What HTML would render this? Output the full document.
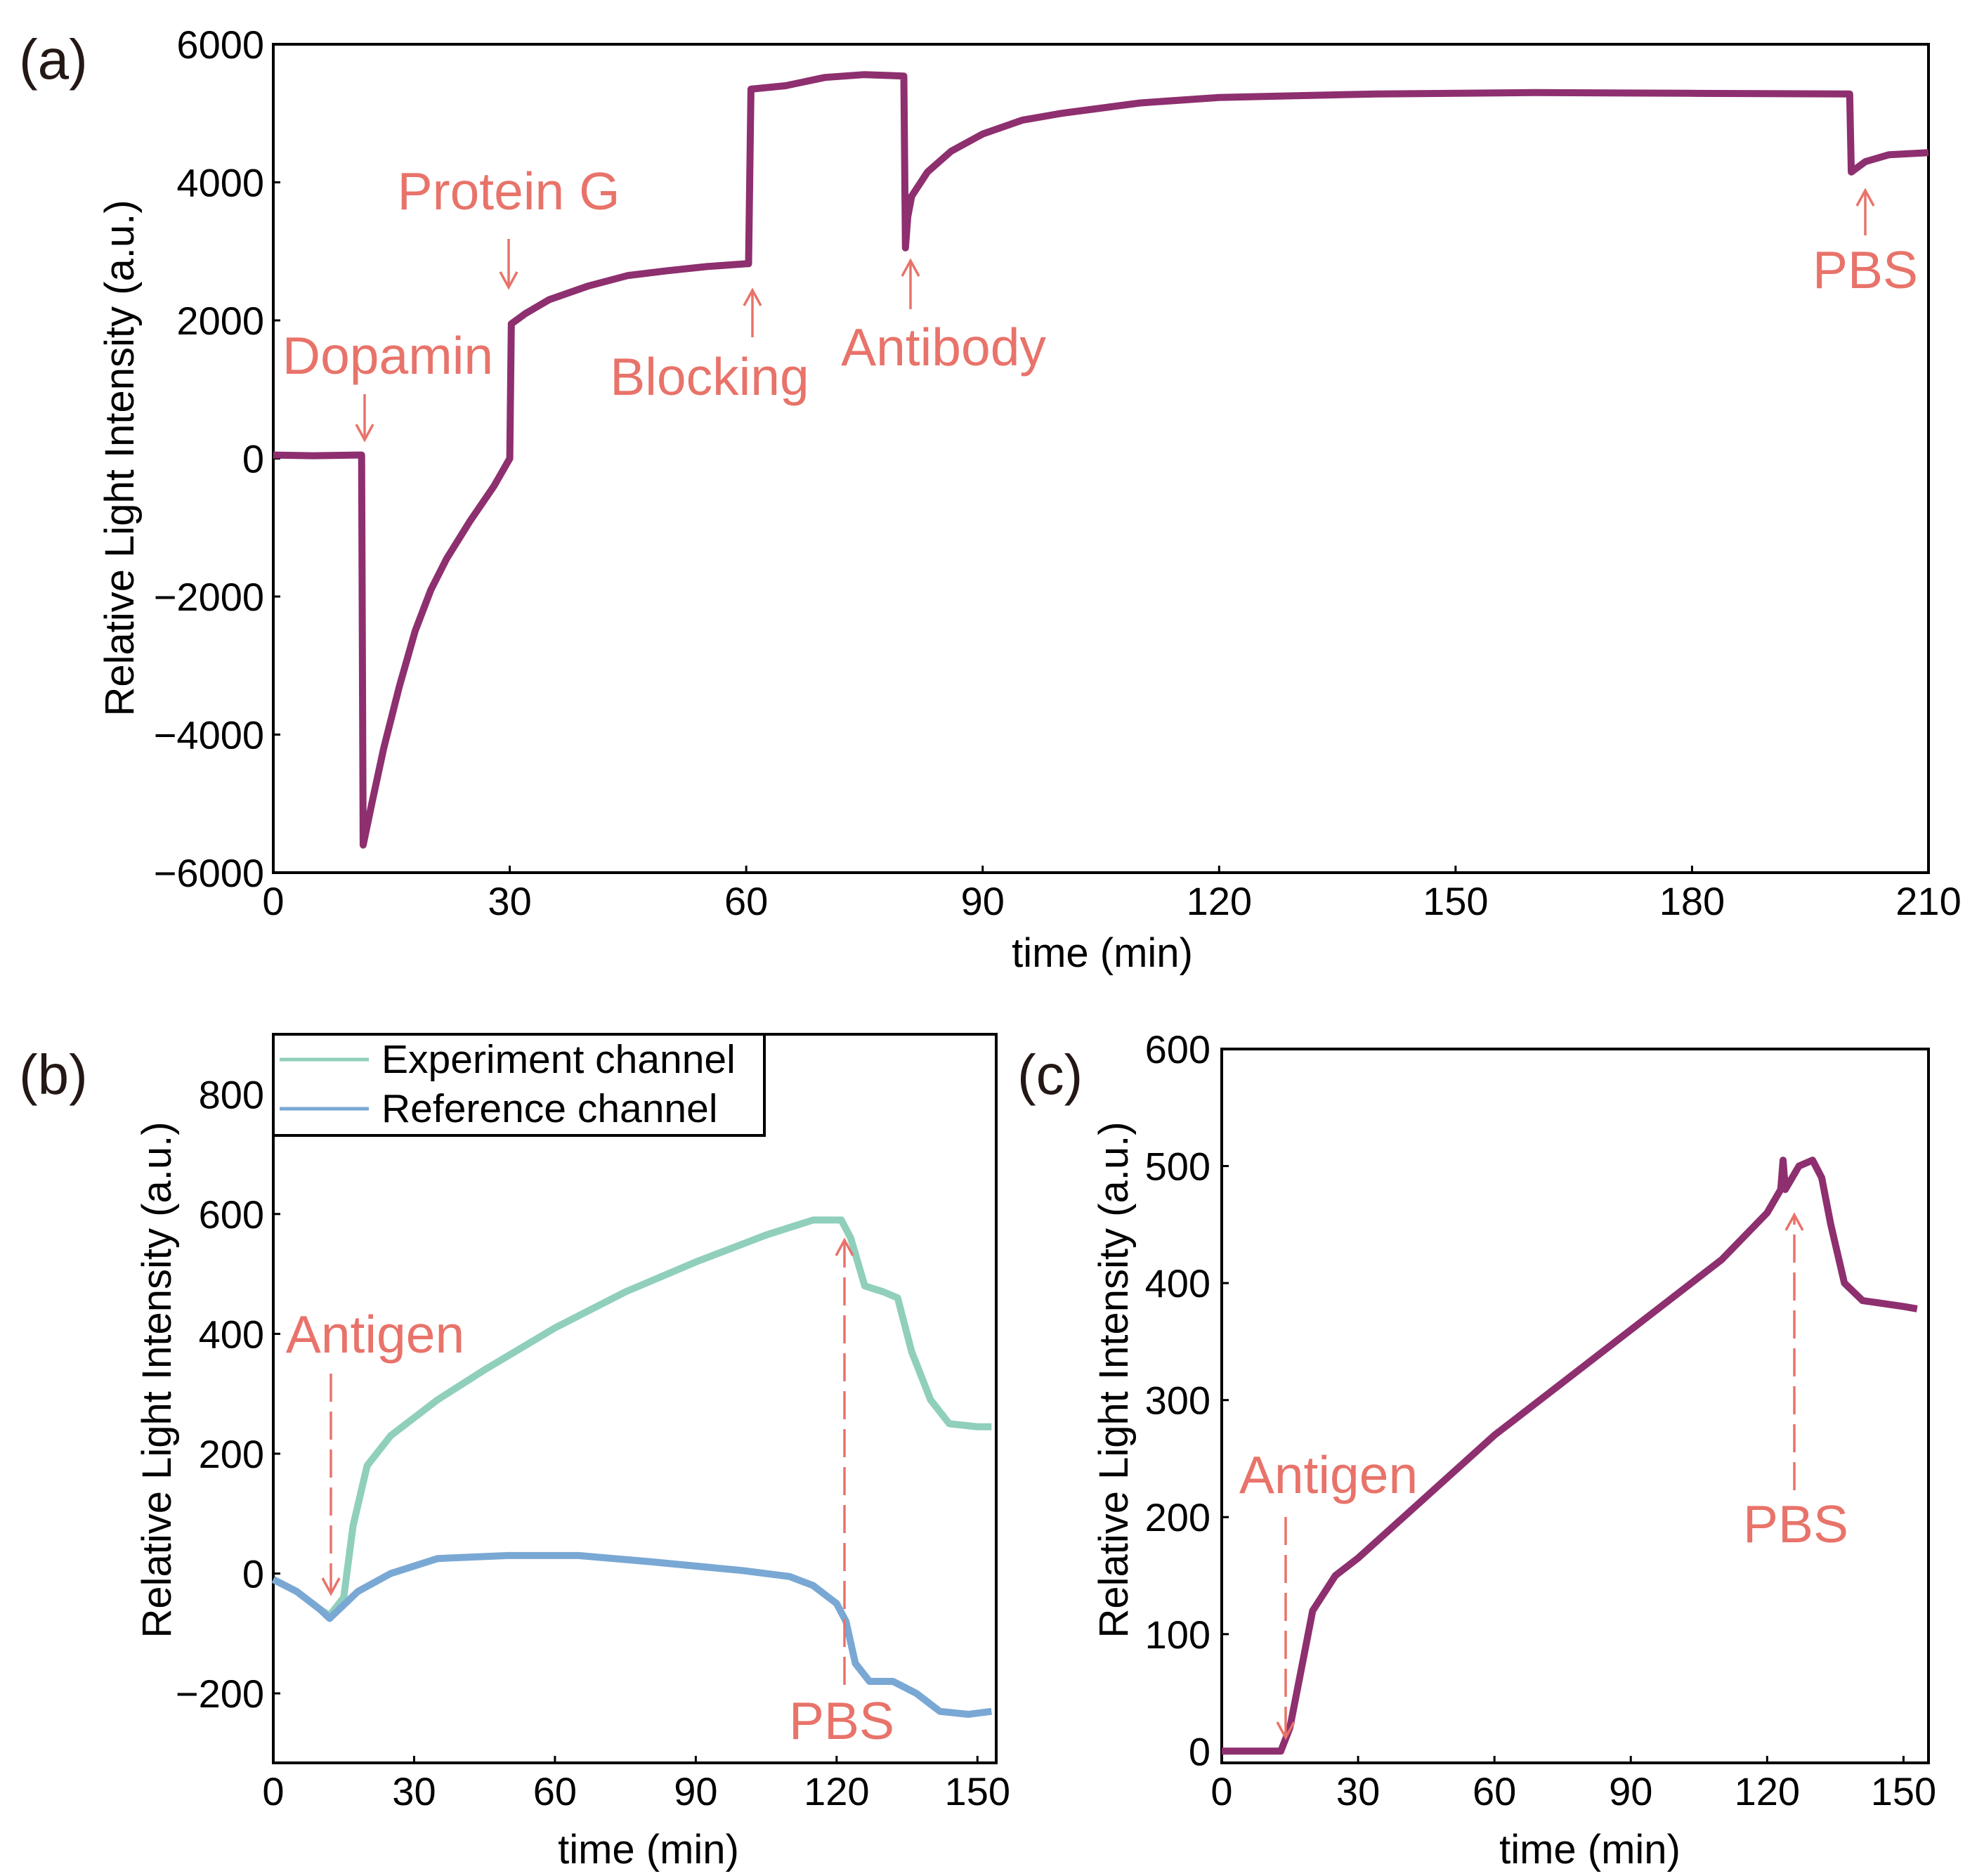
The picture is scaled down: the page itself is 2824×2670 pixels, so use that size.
<!DOCTYPE html>
<html><head><meta charset="utf-8">
<style>
html,body{margin:0;padding:0;background:#fff;}
svg{display:block;font-family:"Liberation Sans",Arial,sans-serif;}
</style></head>
<body>
<svg id="fig" width="2824" height="2670" viewBox="0 0 2824 2670" xmlns="http://www.w3.org/2000/svg">
  <g id="pa"></g>
  <g id="pb"></g>
  <g id="pc"></g>
</svg>
<script>
// Panel (a) data
const aTime = [0,5,11,11.2,11.4,12.5,14,16,18,20,22,25,28,30,30.2,32,35,40,45,50,55,60,60.3,60.6,65,70,75,80,80.2,80.5,81,83,86,90,95,100,110,120,140,160,180,200,200.2,202,205,210];
const aSignal = [50,40,50,50,-5600,-5000,-4200,-3300,-2500,-1900,-1450,-900,-400,0,1950,2100,2300,2500,2650,2720,2780,2820,2820,5350,5400,5520,5560,5540,3050,3500,3800,4150,4450,4700,4900,5000,5150,5230,5280,5300,5290,5280,4150,4300,4400,4430];
const aXTicks = [0,30,60,90,120,150,180,210];
const aYTicks = [-6000,-4000,-2000,0,2000,4000,6000];
// Panel (b) data
const bTime = [0,5,10,12,13,15,17,20,25,35,45,60,75,90,105,115,121,123,126,130,133,136,140,144,150,153];
const bExperiment = [-10,-30,-60,-70,-60,-40,80,180,230,290,340,410,470,520,565,590,590,560,480,470,460,370,290,250,245,245];
const bRefTime = [0,5,10,12,14,18,25,35,50,65,80,100,110,115,120,122,124,127,132,137,142,148,153];
const bReference = [-10,-30,-60,-75,-60,-30,0,25,30,30,20,5,-5,-20,-50,-80,-150,-180,-180,-200,-230,-235,-230];
const bXTicks = [0,30,60,90,120,150];
const bYTicks = [-200,0,200,400,600,800];
// Panel (c) data
const cTime = [0,13,15,18,20,25,30,40,60,90,110,120,123,123.5,124,127,130,132,134,137,141,150,153];
const cSignal = [0,0,20,80,120,150,165,200,270,360,420,460,480,505,480,500,505,490,450,400,385,380,378];
const cXTicks = [0,30,60,90,120,150];
const cYTicks = [0,100,200,300,400,500,600];

const NS = "http://www.w3.org/2000/svg";
const ANN = "#e8736a";
function mk(parent, tag, attrs, text){
  const e = document.createElementNS(NS, tag);
  for (const k in attrs) e.setAttribute(k, attrs[k]);
  if (text !== undefined) e.textContent = text;
  parent.appendChild(e);
  return e;
}
function axes(g, box, xd, yd, xt, yt, ylabelX, yticksX){
  const sx = v => box.l + (v - xd[0]) / (xd[1] - xd[0]) * (box.r - box.l);
  const sy = v => box.b - (v - yd[0]) / (yd[1] - yd[0]) * (box.b - box.t);
  const f = mk(g, 'rect', {x:box.l, y:box.t, width:box.r-box.l, height:box.b-box.t, fill:'none', stroke:'#000', 'stroke-width':4});
  
  
  xt.forEach(v => {
    mk(g, 'line', {x1:sx(v), x2:sx(v), y1:box.b, y2:box.b-10, stroke:'#000', 'stroke-width':3});
    const t = mk(g, 'text', {x:sx(v), y:box.b+60, 'font-size':56, 'text-anchor':'middle'}, String(v));
    
    
  });
  yt.forEach(v => {
    mk(g, 'line', {x1:box.l, x2:box.l+10, y1:sy(v), y2:sy(v), stroke:'#000', 'stroke-width':3});
    const t = mk(g, 'text', {x:yticksX, y:sy(v)+20, 'font-size':56, 'text-anchor':'end'}, v < 0 ? '\u2212' + Math.abs(v) : String(v));
    
    
  });
  return {sx, sy};
}
function series(g, s, xs, ys, color, w, name){
  const d = xs.map((x,i) => (i ? 'L' : 'M') + s.sx(x).toFixed(1) + ' ' + s.sy(ys[i]).toFixed(1)).join(' ');
  const p = mk(g, 'path', {d, fill:'none', stroke:color, 'stroke-width':w, 'stroke-linejoin':'round'});
  
  
}
function label(g, x, y, txt, size, color, name, anchor, rot){
  const a = {x, y, 'font-size':size, fill:color, 'text-anchor':anchor||'middle'};
  if (rot) a.transform = `rotate(-90 ${x} ${y})`;
  const t = mk(g, 'text', a, txt);
  
  
}
function arrow(g, x, y1, y2, dashed, name){
  const a = {x1:x, x2:x, y1, y2, stroke:ANN, 'stroke-width':3.5};
  if (dashed) a['stroke-dasharray'] = '40 14';
  const l = mk(g, 'line', a);
  
  
  const dir = y2 > y1 ? -1 : 1;
  mk(g, 'path', {d:`M${x-12} ${y2+dir*22} L${x} ${y2} L${x+12} ${y2+dir*22}`, fill:'none', stroke:ANN, 'stroke-width':3.5});
}

// Panel a
const ga = document.getElementById('pa');
const sa = axes(ga, {l:389, r:2757-12, t:63, b:1242}, [0,210], [-6000,6000], aXTicks, aYTicks, 0, 376);
series(ga, sa, aTime, aSignal, '#8e2f6f', 10, 'signal-line');
label(ga, 27, 112, '(a)', 80, '#231815', 'panel-label-a', 'start');
label(ga, 1569, 1376, 'time (min)', 58, '#000', 'x-axis-title');
label(ga, 190, 652, 'Relative Light Intensity (a.u.)', 58, '#000', 'y-axis-title', 'middle', true);
label(ga, 552, 532, 'Dopamin', 75, ANN, 'annotation-dopamin');
arrow(ga, 519, 561, 626, false, 'arrow-dopamin');
label(ga, 724, 298, 'Protein G', 75, ANN, 'annotation-protein-g');
arrow(ga, 724, 340, 409, false, 'arrow-protein-g');
label(ga, 1010, 562, 'Blocking', 75, ANN, 'annotation-blocking');
arrow(ga, 1071, 480, 413, false, 'arrow-blocking');
label(ga, 1343, 520, 'Antibody', 75, ANN, 'annotation-antibody');
arrow(ga, 1296, 440, 371, false, 'arrow-antibody');
label(ga, 2655, 410, 'PBS', 75, ANN, 'annotation-pbs');
arrow(ga, 2655, 335, 271, false, 'arrow-pbs');

// Panel b
const gb = document.getElementById('pb');
const sb = axes(gb, {l:389, r:1430-12, t:1472, b:2509}, [0,154], [-316,900], bXTicks, bYTicks, 0, 376);
series(gb, sb, bTime, bExperiment, '#8fcfbb', 10, 'experiment-channel-line');
series(gb, sb, bRefTime, bReference, '#7aa8d4', 10, 'reference-channel-line');
label(gb, 27, 1557, '(b)', 80, '#231815', 'panel-label-b', 'start');
label(gb, 923, 2652, 'time (min)', 58, '#000', 'x-axis-title');
label(gb, 243, 1964, 'Relative Light Intensity (a.u.)', 58, '#000', 'y-axis-title', 'middle', true);
label(gb, 534, 1925, 'Antigen', 75, ANN, 'annotation-antigen');
arrow(gb, 471, 1955, 2268, true, 'arrow-antigen');
label(gb, 1198, 2475, 'PBS', 75, ANN, 'annotation-pbs');
arrow(gb, 1202, 2398, 1765, true, 'arrow-pbs');
const lg = mk(gb, 'g', {});


mk(lg, 'rect', {x:389, y:1472, width:699, height:144, fill:'#fff', stroke:'#000', 'stroke-width':4});
mk(lg, 'line', {x1:398, x2:525, y1:1508, y2:1508, stroke:'#8fcfbb', 'stroke-width':5});
label(lg, 543, 1527, 'Experiment channel', 57, '#000', 'legend-entry-experiment', 'start');
mk(lg, 'line', {x1:398, x2:525, y1:1578, y2:1578, stroke:'#7aa8d4', 'stroke-width':5});
label(lg, 543, 1597, 'Reference channel', 57, '#000', 'legend-entry-reference', 'start');

// Panel c
const gc = document.getElementById('pc');
const sc = axes(gc, {l:1739, r:2757-12, t:1493, b:2509}, [0,155.5], [-10,600], cXTicks, cYTicks, 0, 1723);
series(gc, sc, cTime, cSignal, '#8e2f6f', 10, 'signal-line');
label(gc, 1448, 1557, '(c)', 80, '#231815', 'panel-label-c', 'start');
label(gc, 2263, 2652, 'time (min)', 58, '#000', 'x-axis-title');
label(gc, 1605, 1964, 'Relative Light Intensity (a.u.)', 58, '#000', 'y-axis-title', 'middle', true);
label(gc, 1891, 2125, 'Antigen', 75, ANN, 'annotation-antigen');
arrow(gc, 1830, 2159, 2473, true, 'arrow-antigen');
label(gc, 2556, 2195, 'PBS', 75, ANN, 'annotation-pbs');
arrow(gc, 2554, 2121, 1729, true, 'arrow-pbs');
</script>
</body></html>
